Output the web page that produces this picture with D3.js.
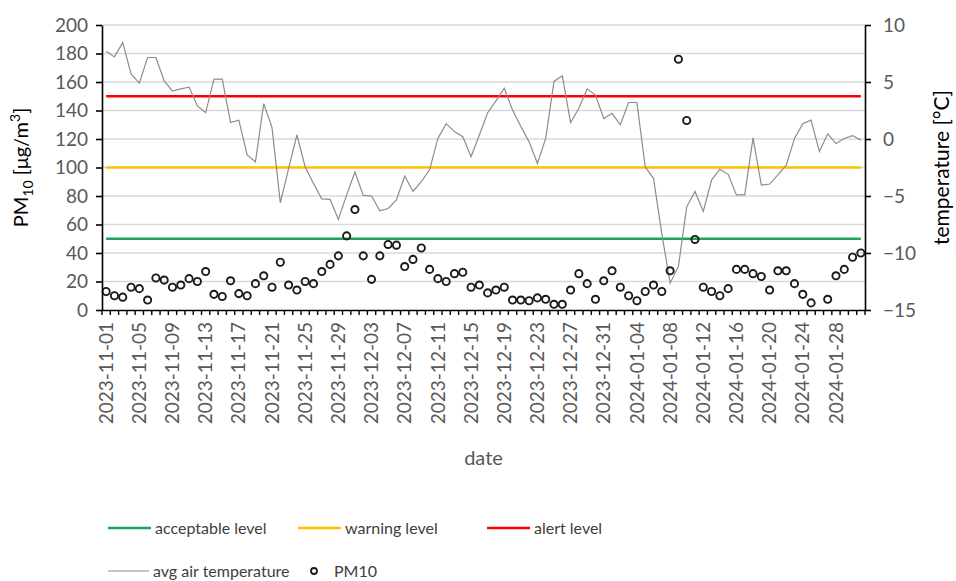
<!DOCTYPE html>
<html>
<head>
<meta charset="utf-8">
<script src="https://cdn.jsdelivr.net/npm/d3@7"></script>
<style>
  html, body { margin: 0; padding: 0; background: #fff; }
  svg { display: block; font-family: Lato, "Open Sans", sans-serif; }
</style>
</head>
<body>
<svg id="chart" width="956" height="581"></svg>
<script>
const dates = [
  "2023-11-01","2023-11-02","2023-11-03","2023-11-04","2023-11-05","2023-11-06","2023-11-07","2023-11-08","2023-11-09","2023-11-10",
  "2023-11-11","2023-11-12","2023-11-13","2023-11-14","2023-11-15","2023-11-16","2023-11-17","2023-11-18","2023-11-19","2023-11-20",
  "2023-11-21","2023-11-22","2023-11-23","2023-11-24","2023-11-25","2023-11-26","2023-11-27","2023-11-28","2023-11-29","2023-11-30",
  "2023-12-01","2023-12-02","2023-12-03","2023-12-04","2023-12-05","2023-12-06","2023-12-07","2023-12-08","2023-12-09","2023-12-10",
  "2023-12-11","2023-12-12","2023-12-13","2023-12-14","2023-12-15","2023-12-16","2023-12-17","2023-12-18","2023-12-19","2023-12-20",
  "2023-12-21","2023-12-22","2023-12-23","2023-12-24","2023-12-25","2023-12-26","2023-12-27","2023-12-28","2023-12-29","2023-12-30",
  "2023-12-31","2024-01-01","2024-01-02","2024-01-03","2024-01-04","2024-01-05","2024-01-06","2024-01-07","2024-01-08","2024-01-09",
  "2024-01-10","2024-01-11","2024-01-12","2024-01-13","2024-01-14","2024-01-15","2024-01-16","2024-01-17","2024-01-18","2024-01-19",
  "2024-01-20","2024-01-21","2024-01-22","2024-01-23","2024-01-24","2024-01-25","2024-01-26","2024-01-27","2024-01-28","2024-01-29",
  "2024-01-30","2024-01-31"
];

const pm10 = [
  13, 10, 9, 16, 15, 7, 22.5, 21, 16, 17.5,
  22, 20, 27, 11, 9.5, 20.5, 11.5, 10, 18.5, 24,
  16, 33.5, 17.5, 14, 20, 18.5, 27, 32, 38, 52,
  70.5, 38, 21.5, 38, 46, 45.5, 30.5, 35.5, 43.5, 28.5,
  22, 20, 25.5, 26.5, 16, 17.5, 12, 14, 16, 7,
  7, 6.5, 8.5, 7.5, 4, 4, 14, 25.5, 18.5, 7.5,
  20.5, 27.5, 16, 10, 6.5, 13, 17.5, 13, 27.5, 176,
  133, 49.5, 16, 13, 10, 15, 28.5, 28.5, 25.5, 23.5,
  14, 27.5, 27.5, 18.5, 11, 5, null, 7.5, 24, 28.5,
  37, 40
];

const temperature = [
  7.7, 7.2, 8.45, 5.7, 4.9, 7.15, 7.15, 5.1, 4.2, 4.4,
  4.55, 2.9, 2.3, 5.25, 5.25, 1.45, 1.65, -1.4, -2.0, 3.1,
  1.0, -5.6, -2.6, 0.35, -2.45, -3.9, -5.25, -5.3, -7.05, -4.9,
  -2.9, -4.95, -5.0, -6.3, -6.1, -5.35, -3.25, -4.6, -3.75, -2.7,
  0.05, 1.35, 0.65, 0.2, -1.55, 0.35, 2.3, 3.35, 4.45, 2.55,
  1.1, -0.25, -2.15, 0.05, 5.05, 5.55, 1.45, 2.7, 4.4, 3.85,
  1.8, 2.25, 1.25, 3.2, 3.2, -2.45, -3.45, -8.3, -12.65, -11.2,
  -5.95, -4.6, -6.35, -3.6, -2.65, -3.1, -4.9, -4.9, 0.1, -4.05,
  -3.95, -3.15, -2.3, 0.05, 1.35, 1.65, -1.1, 0.45, -0.4, 0.05,
  0.3, -0.1
];

const thresholdNames = ["acceptable level", "warning level", "alert level"];
const thresholdValues = [50, 100, 150];
const thresholdColors = ["#1fa35c", "#ffc000", "#ff0000"];

const pmTicks = [0, 20, 40, 60, 80, 100, 120, 140, 160, 180, 200];
const tempTicks = [-15, -10, -5, 0, 5, 10];
const dateTickLabels = dates.filter((d, i) => i % 4 === 0);

(function () {
const svg = d3.select("#chart");
const mLeft = 102, mRight = 865, mTop = 25, mBottom = 310;
const textGray = "#595959";

const x = d3.scaleBand().domain(dates).range([mLeft, mRight]).padding(0);
const yL = d3.scaleLinear().domain([0, 200]).range([mBottom, mTop]);
const yR = d3.scaleLinear().domain([-15, 10]).range([mBottom, mTop]);
const cx = d => x(d) + x.bandwidth() / 2;

// gridlines
svg.append("g").selectAll("line").data(pmTicks.filter(v => v > 0)).join("line")
  .attr("x1", mLeft).attr("x2", mRight)
  .attr("y1", d => yL(d)).attr("y2", d => yL(d))
  .attr("stroke", "#d9d9d9").attr("stroke-width", 1.5);

// threshold lines
thresholdValues.forEach((v, k) => {
  const line = d3.line().x(d => cx(d)).y(() => yL(v));
  svg.append("path").datum(dates).attr("d", line)
    .attr("fill", "none").attr("stroke", thresholdColors[k]).attr("stroke-width", 2.5);
});

// temperature line
const tline = d3.line().x((d, i) => cx(dates[i])).y(d => yR(d));
svg.append("path").datum(temperature).attr("d", tline)
  .attr("fill", "none").attr("stroke", "#8c8c8c").attr("stroke-width", 1.2);

// PM10 circles
svg.append("g").selectAll("circle")
  .data(pm10.map((v, i) => ({ d: dates[i], v })).filter(p => p.v !== null))
  .join("circle")
  .attr("cx", p => cx(p.d)).attr("cy", p => yL(p.v)).attr("r", 3.6)
  .attr("fill", "none").attr("stroke", "#1a1a1a").attr("stroke-width", 1.9);

// left axis
const gL = svg.append("g").attr("transform", `translate(${mLeft},0)`)
  .call(d3.axisLeft(yL).tickValues(pmTicks).tickSize(6).tickPadding(8).tickSizeOuter(0));
gL.select(".domain").attr("stroke", "#000").attr("stroke-width", 1.6);
gL.selectAll(".tick line").attr("stroke", "#000").attr("stroke-width", 1.6);
gL.selectAll(".tick text").attr("fill", textGray).style("font-size", "19px").style("font-family", "Lato");

// right axis
const gR = svg.append("g").attr("transform", `translate(${mRight},0)`)
  .call(d3.axisRight(yR).tickValues(tempTicks).tickSize(6).tickPadding(12).tickSizeOuter(0));
gR.select(".domain").attr("stroke", "#000").attr("stroke-width", 1.6);
gR.selectAll(".tick line").attr("stroke", "#000").attr("stroke-width", 1.6);
gR.selectAll(".tick text").attr("fill", textGray).style("font-size", "19px").style("font-family", "Lato");

// bottom axis
const gB = svg.append("g").attr("transform", `translate(0,${mBottom})`)
  .call(d3.axisBottom(x).tickValues(dateTickLabels).tickSize(0).tickPadding(0).tickSizeOuter(0));
gB.select(".domain").attr("stroke", "#000").attr("stroke-width", 1.6);
gB.selectAll(".tick text")
  .attr("transform", "rotate(-90)")
  .attr("x", -12).attr("y", 0).attr("dy", "0.35em")
  .attr("text-anchor", "end")
  .attr("fill", textGray).style("font-size", "19px").style("font-family", "Lato");
// band boundary ticks
svg.append("g").selectAll("line").data(dates.concat([null])).join("line")
  .attr("x1", d => d === null ? mRight : x(d)).attr("x2", d => d === null ? mRight : x(d))
  .attr("y1", mBottom).attr("y2", mBottom + 5)
  .attr("stroke", "#000").attr("stroke-width", 1.4);

// axis titles
const lt = svg.append("text")
  .attr("transform", `translate(28,${(mTop + mBottom) / 2}) rotate(-90)`)
  .attr("text-anchor", "middle").attr("fill", "#000")
  .style("font-size", "20px");
lt.append("tspan").text("PM");
lt.append("tspan").text("10").attr("dy", 5).style("font-size", "14px");
lt.append("tspan").text(" [μg/m").attr("dy", -5);
lt.append("tspan").text("3").attr("dy", -8).style("font-size", "14px");
lt.append("tspan").text("]").attr("dy", 8);

svg.append("text")
  .attr("transform", `translate(942,${(mTop + mBottom) / 2}) rotate(-90)`)
  .attr("text-anchor", "middle").attr("dy", "0.35em").attr("fill", "#000")
  .style("font-size", "21px").text("temperature [°C]");

svg.append("text").attr("x", (mLeft + mRight) / 2).attr("y", 458)
  .attr("text-anchor", "middle").attr("dy", "0.35em").attr("fill", textGray)
  .style("font-size", "20px").text("date");

// legend
const lg = svg.append("g");
const legRow1 = [
  { x: 108, label: thresholdNames[0], color: thresholdColors[0] },
  { x: 298, label: thresholdNames[1], color: thresholdColors[1] },
  { x: 487, label: thresholdNames[2], color: thresholdColors[2] }
];
legRow1.forEach(it => {
  lg.append("line").attr("x1", it.x).attr("x2", it.x + 43).attr("y1", 528).attr("y2", 528)
    .attr("stroke", it.color).attr("stroke-width", 2.5);
  lg.append("text").attr("x", it.x + 47).attr("y", 528).attr("dy", "0.35em")
    .attr("fill", "#404040").style("font-size", "16px").text(it.label);
});
lg.append("line").attr("x1", 108).attr("x2", 149).attr("y1", 571).attr("y2", 571)
  .attr("stroke", "#8c8c8c").attr("stroke-width", 1.2);
lg.append("text").attr("x", 153).attr("y", 571).attr("dy", "0.35em")
  .attr("fill", "#404040").style("font-size", "16px").text("avg air temperature");
lg.append("circle").attr("cx", 314).attr("cy", 571).attr("r", 3)
  .attr("fill", "none").attr("stroke", "#1a1a1a").attr("stroke-width", 1.8);
lg.append("text").attr("x", 334).attr("y", 571).attr("dy", "0.35em")
  .attr("fill", "#404040").style("font-size", "16px").text("PM10");
})();
</script>
</body>
</html>
